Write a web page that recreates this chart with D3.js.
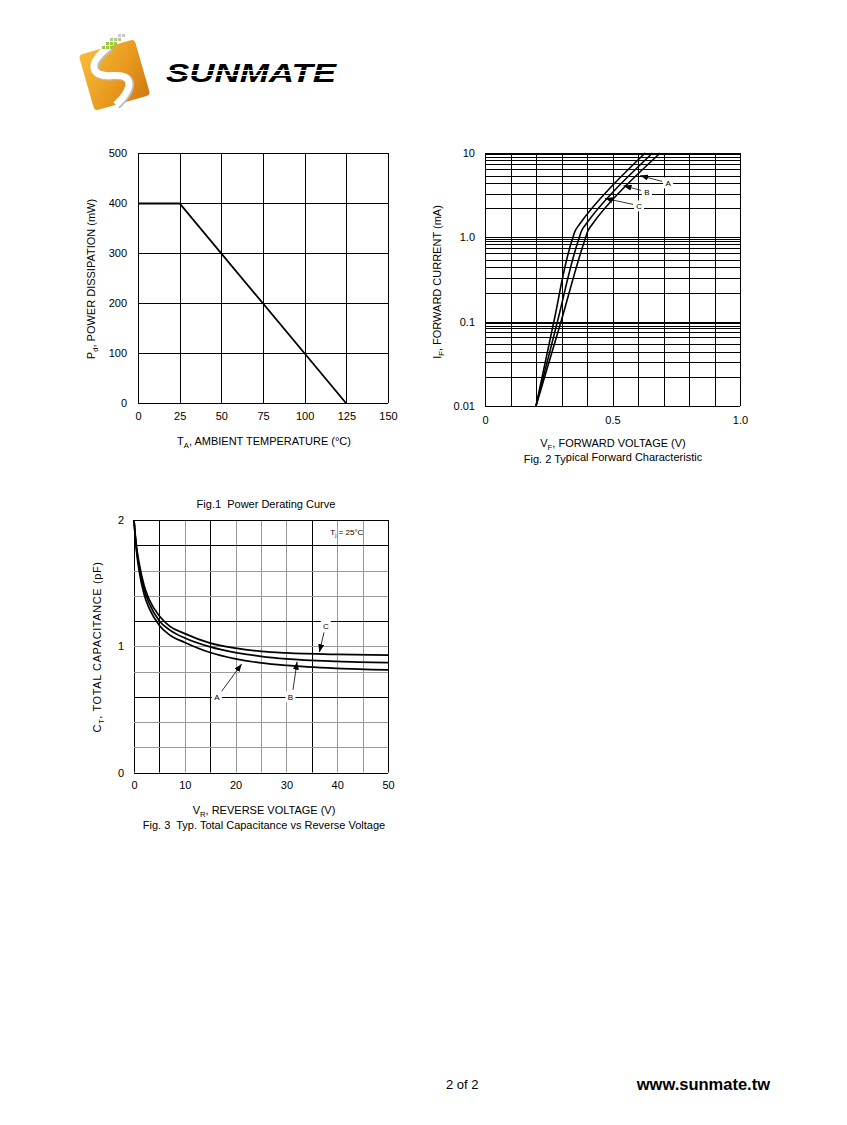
<!DOCTYPE html>
<html><head><meta charset="utf-8">
<script src="https://cdn.jsdelivr.net/npm/d3@7"></script>
<style>
body{margin:0;background:#fff}
svg{display:block}
text{font-family:"Liberation Sans",Arial,Helvetica,sans-serif;fill:#000;white-space:pre}
</style>
</head><body>
<svg id="c" width="847" height="1125"></svg>
<script>
// ---------------- DATA ----------------
// Fig.1 Power derating
const f1TempC   = [0, 25, 125];
const f1PowerMW = [400, 400, 0];
const f1XTicks  = [0, 25, 50, 75, 100, 125, 150];
const f1YTicks  = [0, 100, 200, 300, 400, 500];

// Fig.2 Forward characteristic (three curves A, B, C share the current points)
const f2CurrentMA = [0.01, 0.1, 1.0, 1.22, 1.42, 10];
const f2VoltA     = [0.20, 0.298, 0.395, 0.405, 0.420, 0.687];
const f2VoltB     = [0.20, 0.284, 0.370, 0.380, 0.395, 0.657];
const f2VoltC     = [0.20, 0.270, 0.345, 0.355, 0.370, 0.628];
const f2XTicks    = [0, 0.5, 1.0];
const f2XLabels   = ["0", "0.5", "1.0"];
const f2YTicks    = [0.01, 0.1, 1, 10];
const f2YLabels   = ["0.01", "0.1", "1.0", "10"];
const f2GridVolt  = [0, 0.1, 0.2, 0.3, 0.4, 0.5, 0.6, 0.7, 0.8, 0.9, 1.0];
const f2Decades   = [0.01, 0.1, 1];
const f2GridMult  = [1, 2.2, 3.3, 4.4, 5.4, 6.5, 7.5, 8.3, 9.0, 9.6];
const f2Labels    = ["A", "B", "C"];
const f2LabelV    = [0.718, 0.635, 0.604];
const f2LabelI    = [4.42, 3.46, 2.36];
const f2ArrowI    = [5.4, 4.1, 2.9];

// Fig.3 Capacitance vs reverse voltage
const f3VoltV  = [0, 0.25, 0.5, 1, 2, 3, 5, 7, 10, 15, 20, 25, 30, 40, 50];
const f3CapA   = [2.0, 1.86, 1.75, 1.60, 1.41, 1.30, 1.165, 1.09, 1.03, 0.95, 0.90, 0.868, 0.848, 0.825, 0.813];
const f3CapB   = [2.0, 1.87, 1.77, 1.63, 1.45, 1.34, 1.20, 1.13, 1.065, 0.995, 0.95, 0.92, 0.90, 0.88, 0.87];
const f3CapC   = [2.0, 1.88, 1.79, 1.66, 1.48, 1.37, 1.24, 1.16, 1.10, 1.025, 0.985, 0.96, 0.947, 0.935, 0.93];
const f3XTicks = [0, 10, 20, 30, 40, 50];
const f3YTicks = [0, 1, 2];
const f3GridX  = [0, 5, 10, 15, 20, 25, 30, 35, 40, 45, 50];
const f3GridY  = [0, 0.2, 0.4, 0.6, 0.8, 1.0, 1.2, 1.4, 1.6, 1.8, 2.0];
const f3DarkX  = [0, 5, 15, 35, 50];
const f3DarkY  = [0, 0.6, 1.2, 1.8, 2.0];
const f3Labels     = ["A", "B", "C"];
const f3LabelPos   = [[16.3, 0.60], [30.8, 0.60], [37.75, 1.16]];
const f3ArrowFrom  = [[17.2, 0.64], [31.3, 0.655], [37.4, 1.11]];
const f3ArrowTo    = [[21.2, 0.86], [32.1, 0.878], [36.5, 0.953]];

// ---------------- DRAW ----------------
const svg = d3.select("#c");
const defs = svg.append("defs");
defs.append("marker").attr("id", "ah").attr("markerUnits", "userSpaceOnUse")
  .attr("markerWidth", 8).attr("markerHeight", 6).attr("refX", 8).attr("refY", 3)
  .attr("orient", "auto")
  .append("path").attr("d", "M0,0 L8,3 L0,6 Z").attr("fill", "#000");

const px = v => Math.round(v) + 0.5;

function styleAxis(g, size) {
  g.select(".domain").remove();
  g.attr("font-family", "'Liberation Sans', Arial, sans-serif").attr("font-size", size);
  g.selectAll("text").attr("fill", "#000");
}
function labelBox(g, x, y, t, fs) {
  g.append("rect").attr("x", x - 5).attr("y", y - 5.5).attr("width", 10).attr("height", 11).attr("fill", "#fff");
  g.append("text").attr("x", x).attr("y", y).attr("dy", "0.35em").attr("text-anchor", "middle")
    .attr("font-size", fs).text(t);
}
function subText(g, x, y, parts, fs, rotate) {
  const t = g.append("text").attr("text-anchor", "middle").attr("font-size", fs)
    .attr("transform", `translate(${x},${y})` + (rotate ? " rotate(-90)" : ""));
  parts.forEach(p => {
    const s = t.append("tspan").text(p[0]);
    if (p[1] === "sub") s.attr("font-size", fs * 0.7).attr("dy", 3);
    if (p[1] === "up") s.attr("dy", -3);
  });
  return t;
}

// ---------- LOGO ----------
const lg = defs.append("linearGradient").attr("id", "lg").attr("x1", 0).attr("y1", 0).attr("x2", 1).attr("y2", 1);
lg.append("stop").attr("offset", "0%").attr("stop-color", "#F6BE3A");
lg.append("stop").attr("offset", "55%").attr("stop-color", "#E99A1E");
lg.append("stop").attr("offset", "100%").attr("stop-color", "#CF7A10");
const logo = svg.append("g");
const sq = logo.append("g").attr("transform", "translate(114.5,75) rotate(-16)");
sq.append("rect").attr("x", -29).attr("y", -29).attr("width", 58).attr("height", 58).attr("rx", 4).attr("fill", "url(#lg)");
sq.append("path").attr("d", "M3,-29 C-25,-18 -23,-4 -2,0 C19,4 15,18 -7,29")
  .attr("fill", "none").attr("stroke", "#bbb").attr("stroke-width", 8).attr("transform", "translate(1,1)");
sq.append("path").attr("d", "M3,-29 C-25,-18 -23,-4 -2,0 C19,4 15,18 -7,29")
  .attr("fill", "none").attr("stroke", "#fff").attr("stroke-width", 7);
const dotG = logo.append("g");
[[102,46],[106,46],[110,46],[106,42],[110,42],[114,42],[114,38],[118,38],[110,38],[118,34],[122,34]].forEach((d,i)=>{
  dotG.append("rect").attr("x", d[0]).attr("y", d[1]).attr("width", 3).attr("height", 3)
    .attr("fill", i < 6 ? "#9CC641" : (i < 9 ? "#B5C98A" : "#C9C9C9"));
});
logo.append("text").attr("x", 166).attr("y", 82).attr("font-family", "'DejaVu Sans', sans-serif")
  .attr("font-weight", "bold").attr("font-style", "italic").attr("font-size", 26)
  .attr("textLength", 170).attr("lengthAdjust", "spacingAndGlyphs").attr("fill", "#1e1e1e").text("SUNMATE");
logo.append("line").attr("x1", 160).attr("x2", 340).attr("y1", 70.5).attr("y2", 70.5).attr("stroke", "#fff").attr("stroke-width", 1.2);
logo.append("line").attr("x1", 160).attr("x2", 340).attr("y1", 75.5).attr("y2", 75.5).attr("stroke", "#fff").attr("stroke-width", 1);

// ---------- FIG 1 ----------
const x1 = d3.scaleLinear().domain([0, 150]).range([138, 388]);
const y1 = d3.scaleLinear().domain([0, 500]).range([403, 153]);
const g1 = svg.append("g");
f1XTicks.forEach(v => g1.append("line").attr("x1", px(x1(v))).attr("x2", px(x1(v))).attr("y1", y1(0)).attr("y2", y1(500)).attr("stroke", "#000"));
f1YTicks.forEach(v => g1.append("line").attr("y1", px(y1(v))).attr("y2", px(y1(v))).attr("x1", x1(0)).attr("x2", x1(150)).attr("stroke", "#000"));
g1.append("path").datum(f1TempC.map((t, i) => [t, f1PowerMW[i]]))
  .attr("d", d3.line().x(d => x1(d[0])).y(d => y1(d[1]) + 0.5)).attr("fill", "none").attr("stroke", "#000").attr("stroke-width", 1.8);
g1.append("g").attr("transform", `translate(0,${y1(0)})`)
  .call(d3.axisBottom(x1).tickValues(f1XTicks).tickSize(0).tickPadding(9).tickFormat(d3.format("d"))).call(g => styleAxis(g, 11));
g1.append("g").attr("transform", `translate(${x1(0)},0)`)
  .call(d3.axisLeft(y1).tickValues(f1YTicks).tickSize(0).tickPadding(11).tickFormat(d3.format("d"))).call(g => styleAxis(g, 11));
subText(g1, 264, 445, [["T"], ["A", "sub"], [", AMBIENT TEMPERATURE (°C)", "up"]], 11, false);
subText(g1, 95, 279, [["P"], ["d", "sub"], [", POWER DISSIPATION (mW)", "up"]], 11, true);

// ---------- FIG 2 ----------
const x2 = d3.scaleLinear().domain([0, 1]).range([485, 740]);
const y2 = d3.scaleLog().domain([0.01, 10]).range([406, 153]);
const g2 = svg.append("g");
f2GridVolt.forEach(v => g2.append("line").attr("x1", px(x2(v))).attr("x2", px(x2(v))).attr("y1", y2(0.01)).attr("y2", y2(10)).attr("stroke", "#000"));
const hVals = [10];
f2Decades.forEach(d => f2GridMult.forEach(m => hVals.push(d * m)));
hVals.forEach(v => g2.append("line").attr("y1", px(y2(v))).attr("y2", px(y2(v))).attr("x1", x2(0)).attr("x2", x2(1)).attr("stroke", "#000"));
const f2Series = [f2VoltA, f2VoltB, f2VoltC];
const line2 = d3.line().x(d => x2(d[0])).y(d => y2(d[1])).curve(d3.curveMonotoneY);
f2Series.forEach(vs => g2.append("path").datum(vs.map((v, i) => [v, f2CurrentMA[i]]))
  .attr("d", line2).attr("fill", "none").attr("stroke", "#000").attr("stroke-width", 1.6));
function voltAt(vs, I) {
  for (let i = 1; i < vs.length; i++) {
    if (I <= f2CurrentMA[i]) {
      const a = Math.log10(f2CurrentMA[i - 1]), b = Math.log10(f2CurrentMA[i]);
      const t = (Math.log10(I) - a) / (b - a);
      return vs[i - 1] + t * (vs[i] - vs[i - 1]);
    }
  }
  return vs[vs.length - 1];
}
f2Labels.forEach((lab, i) => {
  const lx = x2(f2LabelV[i]), ly = y2(f2LabelI[i]);
  const tx = x2(voltAt(f2Series[i], f2ArrowI[i])) + 1.5, ty = y2(f2ArrowI[i]);
  g2.append("line").attr("x1", lx - 6).attr("y1", ly - 1.5).attr("x2", tx).attr("y2", ty)
    .attr("stroke", "#000").attr("stroke-width", 0.8).attr("marker-end", "url(#ah)");
  labelBox(g2, lx, ly, lab, 8);
});
g2.append("g").attr("transform", `translate(0,${y2(0.01)})`)
  .call(d3.axisBottom(x2).tickValues(f2XTicks).tickSize(0).tickPadding(10).tickFormat((d, i) => f2XLabels[i])).call(g => styleAxis(g, 11));
g2.append("g").attr("transform", `translate(${x2(0)},0)`)
  .call(d3.axisLeft(y2).tickValues(f2YTicks).tickSize(0).tickPadding(10).tickFormat((d, i) => f2YLabels[i])).call(g => styleAxis(g, 11));
subText(g2, 613, 447, [["V"], ["F", "sub"], [", FORWARD VOLTAGE (V)", "up"]], 11, false);
subText(g2, 441, 282, [["I"], ["F", "sub"], [", FORWARD CURRENT (mA)", "up"]], 11, true);
const cap2 = g2.append("text").attr("x", 613).attr("y", 463).attr("text-anchor", "middle").attr("font-size", 11);
cap2.append("tspan").text("Fig. 2 Ty");
cap2.append("tspan").attr("dy", -2).text("pical Forward Characteristic");

// ---------- FIG 3 ----------
const x3 = d3.scaleLinear().domain([0, 50]).range([134, 388]);
const y3 = d3.scaleLinear().domain([0, 2]).range([772.5, 520]);
const g3 = svg.append("g");
g3.append("text").attr("x", 266).attr("y", 508).attr("text-anchor", "middle").attr("font-size", 11).text("Fig.1  Power Derating Curve");
const isDark = (arr, v) => arr.some(a => Math.abs(a - v) < 1e-6);
f3GridX.filter(v => !isDark(f3DarkX, v)).concat(f3GridX.filter(v => isDark(f3DarkX, v))).forEach(v =>
  g3.append("line").attr("x1", px(x3(v))).attr("x2", px(x3(v))).attr("y1", y3(0)).attr("y2", y3(2))
    .attr("stroke", isDark(f3DarkX, v) ? "#000" : "#9a9a9a"));
f3GridY.forEach(v =>
  g3.append("line").attr("y1", px(y3(v))).attr("y2", px(y3(v))).attr("x1", x3(0)).attr("x2", x3(50))
    .attr("stroke", isDark(f3DarkY, v) ? "#000" : "#9a9a9a"));
const line3 = d3.line().x(d => x3(d[0])).y(d => y3(d[1])).curve(d3.curveMonotoneX);
[f3CapA, f3CapB, f3CapC].forEach(cs => g3.append("path").datum(f3VoltV.map((v, i) => [v, cs[i]]))
  .attr("d", line3).attr("fill", "none").attr("stroke", "#000").attr("stroke-width", 1.7));
f3Labels.forEach((lab, i) => {
  g3.append("line").attr("x1", x3(f3ArrowFrom[i][0])).attr("y1", y3(f3ArrowFrom[i][1]))
    .attr("x2", x3(f3ArrowTo[i][0])).attr("y2", y3(f3ArrowTo[i][1]))
    .attr("stroke", "#000").attr("stroke-width", 0.8).attr("marker-end", "url(#ah)");
  labelBox(g3, x3(f3LabelPos[i][0]), y3(f3LabelPos[i][1]), lab, 8);
});
const tj = g3.append("text").attr("x", x3(41.9)).attr("y", y3(1.905) + 3).attr("text-anchor", "middle").attr("font-size", 8);
tj.append("tspan").text("T");
tj.append("tspan").attr("font-size", 5.5).attr("dy", 2).text("j");
tj.append("tspan").attr("dy", -2).text(" = 25°C");
g3.append("g").attr("transform", `translate(0,${y3(0)})`)
  .call(d3.axisBottom(x3).tickValues(f3XTicks).tickSize(0).tickPadding(9).tickFormat(d3.format("d"))).call(g => styleAxis(g, 11));
g3.append("g").attr("transform", `translate(${x3(0)},0)`)
  .call(d3.axisLeft(y3).tickValues(f3YTicks).tickSize(0).tickPadding(10).tickFormat(d3.format("d"))).call(g => styleAxis(g, 11));
subText(g3, 264, 814, [["V"], ["R", "sub"], [", REVERSE VOLTAGE (V)", "up"]], 11, false);
subText(g3, 101, 647, [["C"], ["T", "sub"], [", TOTAL CAPACITANCE (pF)", "up"]], 11, true).attr("letter-spacing", 0.6);
g3.append("text").attr("x", 264).attr("y", 829).attr("text-anchor", "middle").attr("font-size", 11)
  .text("Fig. 3  Typ. Total Capacitance vs Reverse Voltage");

// ---------- FOOTER ----------
svg.append("text").attr("x", 446).attr("y", 1089).attr("font-size", 13).text("2 of 2");
svg.append("text").attr("x", 770).attr("y", 1090).attr("text-anchor", "end").attr("font-size", 16.5)
  .attr("font-weight", "bold").text("www.sunmate.tw");
</script>
</body></html>
